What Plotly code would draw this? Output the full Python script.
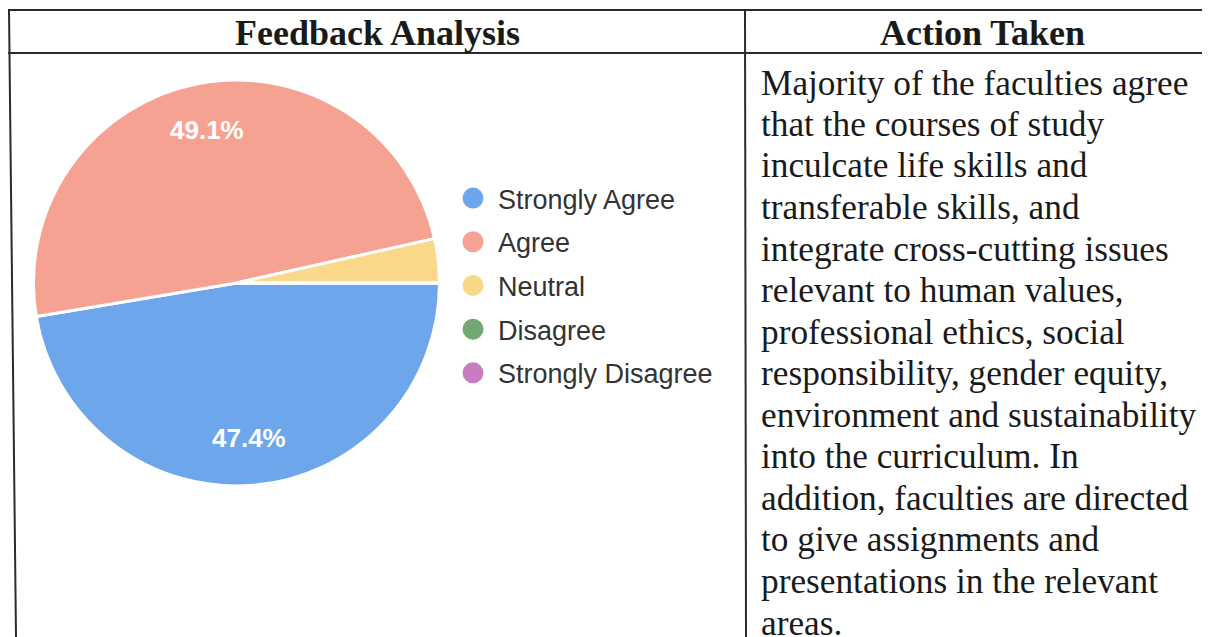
import math
import plotly.graph_objects as go

W, H = 1210, 637
OFF = 8  # the page body adds an 8px margin around the figure
FW, FH = W - OFF, H - OFF

# Feedback data (57 responses)
categories = ["Strongly Agree", "Agree", "Neutral", "Disagree", "Strongly Disagree"]
responses = [27, 28, 2, 0, 0]
slice_colors = ["#6ea6ec", "#f6a293", "#f9d88a", "#72a872", "#c77dc0"]

header_left = "Feedback Analysis"
header_right = "Action Taken"

action_lines = [
    "Majority of the faculties agree",
    "that the courses of study",
    "inculcate life skills and",
    "transferable skills, and",
    "integrate cross-cutting issues",
    "relevant to human values,",
    "professional ethics, social",
    "responsibility, gender equity,",
    "environment and sustainability",
    "into the curriculum. In",
    "addition, faculties are directed",
    "to give assignments and",
    "presentations in the relevant",
    "areas.",
]


# page pixels -> paper coordinates
def px_x(px):
    return (px - OFF) / FW


def px_y(py):
    return 1 - (py - OFF) / FH


# pie box in page pixels
pie_left, pie_right, pie_top, pie_bottom = 33, 440, 80, 486
cx, cy = (pie_left + pie_right) / 2, (pie_top + pie_bottom) / 2
radius = (pie_right - pie_left) / 2

fig = go.Figure()

fig.add_trace(go.Pie(
    labels=categories,
    values=responses,
    sort=False,
    direction="clockwise",
    rotation=90,
    marker=dict(colors=slice_colors, line=dict(color="white", width=3)),
    textinfo="none",
    showlegend=False,
    domain=dict(x=[px_x(pie_left), px_x(pie_right)], y=[px_y(pie_bottom), px_y(pie_top)]),
))

# percentage labels near the rim, like the original chart (small slices unlabeled)
total = sum(responses)
annotations = []
cum = 0
for v in responses:
    mid = (cum + v / 2) / total * 2 * math.pi  # clockwise from 3 o'clock
    cum += v
    if v / total < 0.05:
        continue
    k = 0.765 * radius
    annotations.append(dict(
        text=f"<b>{v / total:.1%}</b>",
        x=px_x(cx + k * math.cos(mid)), y=px_y(cy + k * math.sin(mid)),
        xref="paper", yref="paper", xanchor="center", yanchor="middle",
        showarrow=False,
        font=dict(family="Liberation Sans, Arial", size=26, color="white"),
    ))

# legend entries as round markers, one group each so they can be spaced out
for i, (name, col) in enumerate(zip(categories, slice_colors)):
    fig.add_trace(go.Scatter(
        x=[None], y=[None],
        mode="markers",
        name=name,
        legendgroup=f"g{i}",
        marker=dict(symbol="circle", size=16, color=col,
                    line=dict(color=col, width=5)),
    ))

shapes = [
    dict(type="line", x0=px_x(8), x1=1, y0=px_y(10), y1=px_y(10)),
    dict(type="line", x0=px_x(8), x1=1, y0=px_y(53), y1=px_y(53)),
    dict(type="line", x0=px_x(9), x1=px_x(16), y0=px_y(10), y1=0),
    dict(type="line", x0=px_x(745), x1=px_x(746), y0=px_y(10), y1=0),
]
for s in shapes:
    s.update(xref="paper", yref="paper", line=dict(color="#2b2b2b", width=2))

for text, xc in [(header_left, 377), (header_right, 983)]:
    annotations.append(dict(
        text=f"<b>{text}</b>", x=px_x(xc), y=px_y(33),
        xref="paper", yref="paper", xanchor="center", yanchor="middle",
        showarrow=False,
        font=dict(family="Liberation Serif, Times New Roman", size=36, color="#1a1a1a"),
    ))

for i, line in enumerate(action_lines):
    ann = dict(
        text=line, x=px_x(759), y=px_y(83 + i * 41.5),
        xref="paper", yref="paper", xanchor="left", yanchor="middle",
        showarrow=False,
        font=dict(family="Liberation Serif, Times New Roman", size=35.3, color="#1a1a1a"),
    )
    if i == len(action_lines) - 1:
        # last line sits on the bottom edge; keep its box inside the page
        ann.update(height=28, valign="middle")
    annotations.append(ann)

fig.update_layout(
    width=FW, height=FH,
    margin=dict(l=0, r=0, t=0, b=0),
    paper_bgcolor="white",
    plot_bgcolor="white",
    xaxis=dict(visible=False),
    yaxis=dict(visible=False),
    shapes=shapes,
    annotations=annotations,
    legend=dict(
        x=px_x(448), y=px_y(174),
        xanchor="left", yanchor="top",
        itemwidth=40,
        itemsizing="trace",
        tracegroupgap=5.6,
        bgcolor="rgba(0,0,0,0)",
        font=dict(family="Liberation Sans, Arial", size=27, color="#333333"),
    ),
)

fig.write_html("out.html")
